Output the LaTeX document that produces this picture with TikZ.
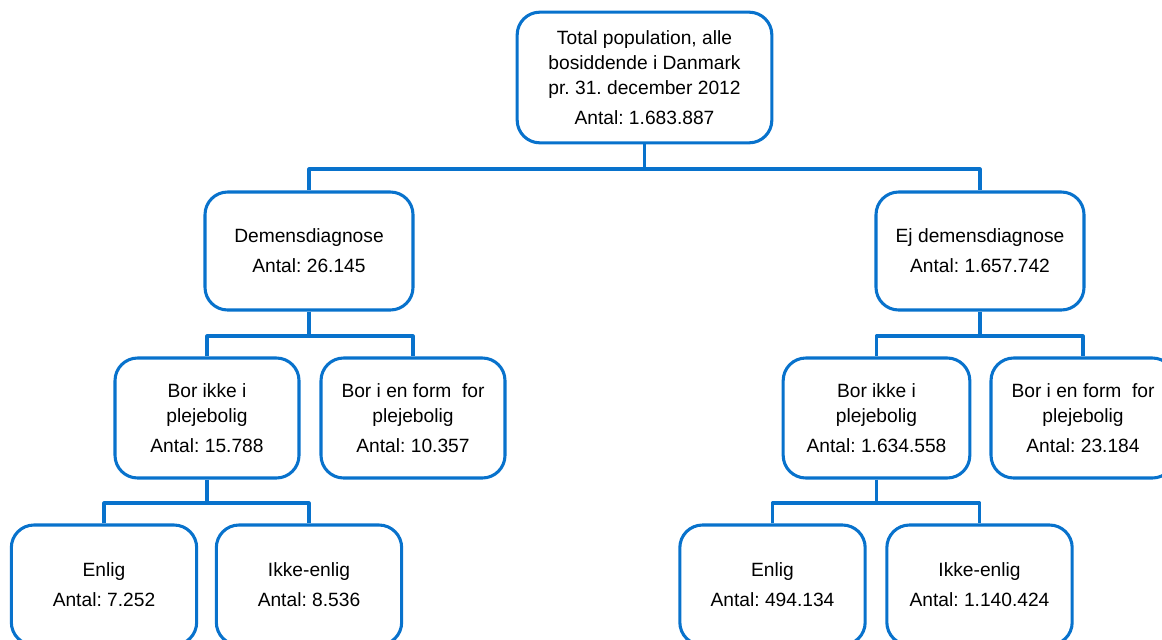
\documentclass[tikz,border=0pt]{standalone}
\usepackage{fontspec}
\setmainfont{Liberation Sans}
\frenchspacing
\definecolor{orgblue}{RGB}{8,114,204}
\begin{document}
\begin{tikzpicture}[x=0.75pt,y=-0.75pt,line join=round,
  box/.style={draw=orgblue,line width=2.3pt,rounded corners=17pt,align=center,
    inner sep=0pt,font=\fontsize{14.4}{18.75}\selectfont},
  toplvl/.style={box,minimum width=191pt,minimum height=98pt},
  firstlvl/.style={box,minimum width=156pt,minimum height=88.5pt},
  secondlvl/.style={box,minimum width=138pt,minimum height=90pt},
  thirdlvl/.style={box,minimum width=139pt,minimum height=90pt},
  link/.style={draw=orgblue,line width=2.3pt}]
  \useasboundingbox (0,0) rectangle (1162,639);
  \clip (0,0) rectangle (1162,639);
  \node[toplvl] (pop) at (644.5,77.5) {Total population, alle\\bosiddende i Danmark\\pr. 31. december 2012\\[3.75pt]Antal: 1.683.887};
  \node[firstlvl] (dem) at (309,251) {Demensdiagnose\\[3.75pt]Antal: 26.145};
  \node[firstlvl] (ejdem) at (980,251) {Ej demensdiagnose\\[3.75pt]Antal: 1.657.742};
  \node[secondlvl] (demikke) at (207,418) {Bor ikke i\\plejebolig\\[3.75pt]Antal: 15.788};
  \node[secondlvl] (dempleje) at (413,418) {Bor i en form\ \ for\\plejebolig\\[3.75pt]Antal: 10.357};
  \node[secondlvl,minimum width=140pt] (ejikke) at (876.5,418) {Bor ikke i\\plejebolig\\[3.75pt]Antal: 1.634.558};
  \node[secondlvl] (ejpleje) at (1083,418) {Bor i en form\ \ for\\plejebolig\\[3.75pt]Antal: 23.184};
  \node[thirdlvl] (demenlig) at (104,585) {Enlig\\[3.75pt]Antal: 7.252};
  \node[thirdlvl] (demikkeenlig) at (309,585) {Ikke-enlig\\[3.75pt]Antal: 8.536};
  \node[thirdlvl] (ejenlig) at (772.5,585) {Enlig\\[3.75pt]Antal: 494.134};
  \node[thirdlvl] (ejikkeenlig) at (979.5,585) {Ikke-enlig\\[3.75pt]Antal: 1.140.424};
  \coordinate (bus0) at (0,169);
  \coordinate (bus1) at (0,336);
  \coordinate (bus2) at (0,503);
  \draw[link] (pop.south) -- (pop.south |- bus0);
  \draw[link] (dem.north) |- (pop.south |- bus0) -| (ejdem.north);
  \draw[link] (dem.south) -- (dem.south |- bus1);
  \draw[link] (demikke.north) |- (dem.south |- bus1) -| (dempleje.north);
  \draw[link] (ejdem.south) -- (ejdem.south |- bus1);
  \draw[link] (ejikke.north) |- (ejdem.south |- bus1) -| (ejpleje.north);
  \draw[link] (demikke.south) -- (demikke.south |- bus2);
  \draw[link] (demenlig.north) |- (demikke.south |- bus2) -| (demikkeenlig.north);
  \draw[link] (ejikke.south) -- (ejikke.south |- bus2);
  \draw[link] (ejenlig.north) |- (ejikke.south |- bus2) -| (ejikkeenlig.north);
\end{tikzpicture}
\end{document}
